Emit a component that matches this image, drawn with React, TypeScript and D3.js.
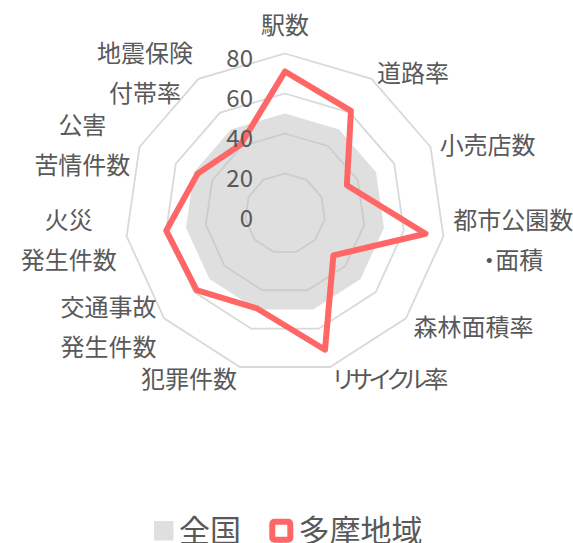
import React from "react";
import * as d3 from "d3";

const categories: string[][] = [
  ["駅数"],
  ["道路率"],
  ["小売店数"],
  ["都市公園数", "・面積"],
  ["森林面積率"],
  ["リサイクル率"],
  ["犯罪件数"],
  ["交通事故", "発生件数"],
  ["火災", "発生件数"],
  ["公害", "苦情件数"],
  ["地震保険", "付帯率"],
];
const nationalValues = [50, 50, 50, 50, 50, 50, 50, 50, 50, 50, 50];
const tamaValues = [71, 61, 34, 71, 32, 71, 49.5, 58.5, 60, 48, 41];
const ticks = [0, 20, 40, 60, 80];
const seriesNames = ["全国", "多摩地域"];

const W = 573;
const H = 543;
const cx = 285;
const cy = 213.5;
const FONT = "'Noto Sans CJK JP', 'Noto Sans', sans-serif";
const TEXT = "#595959";
const RED = "#FF6666";

export default function App() {
  const n = categories.length;
  const r = d3.scaleLinear().domain([0, 80]).range([0, 160]);
  const angle = (i: number) => (i * 2 * Math.PI) / n;
  const radial = d3
    .lineRadial<number>()
    .angle((_, i) => angle(i))
    .radius((d) => r(d))
    .curve(d3.curveLinearClosed);

  const fs = 24;
  const lh = 40;
  const labelR = 170;

  return (
    <svg
      width={W}
      height={H}
      style={{ position: "absolute", left: 0, top: 0, background: "#fff" }}
      fontFamily={FONT}
    >
      <g transform={`translate(${cx},${cy})`}>
        {ticks
          .filter((t) => t > 0)
          .map((t) => (
            <path
              key={t}
              d={radial(new Array(n).fill(t)) || ""}
              fill="none"
              stroke="#D9D9D9"
              strokeWidth={1.8}
            />
          ))}
        <path
          d={radial(nationalValues) || ""}
          fill="#BFBFBF"
          fillOpacity={0.5}
          stroke="none"
        />
        <path
          d={radial(tamaValues) || ""}
          fill="none"
          stroke={RED}
          strokeWidth={6}
          strokeLinejoin="round"
        />
        {ticks.map((t) => (
          <text
            key={t}
            x={-32}
            y={-r(t) + 3}
            textAnchor="end"
            dominantBaseline="central"
            fontSize={fs}
            fill={TEXT}
          >
            {t}
          </text>
        ))}
        {categories.map((lines, i) => {
          const a = angle(i);
          const s = Math.sin(a);
          const c = Math.cos(a);
          const ax = labelR * s;
          const ay = -labelR * c;
          const maxLen = Math.max(...lines.map((l) => l.length));
          const bw = maxLen * fs;
          let bx = ax;
          let anchor = "middle";
          if (lines.length === 1) {
            if (s > 0.1) anchor = "start";
            else if (s < -0.1) anchor = "end";
          } else {
            if (s > 0.1) bx = ax + bw / 2;
            else if (s < -0.1) bx = ax - bw / 2;
          }
          const bh = lines.length * lh;
          let by = ay;
          if (c > 0.95) by = ay - 21;
          const hasKana = lines.some((l) => /[\u30A1-\u30FA]/.test(l));
          return (
            <text
              key={i}
              textAnchor={anchor}
              dominantBaseline="central"
              fontSize={fs}
              fill={TEXT}
              letterSpacing={hasKana ? -3 : 0}
              style={{ fontFeatureSettings: "'palt'" }}
            >
              {lines.map((l, j) => (
                <tspan key={j} x={bx} y={by - bh / 2 + lh / 2 + j * lh}>
                  {l}
                </tspan>
              ))}
            </text>
          );
        })}
      </g>
      <g>
        <rect x={154} y={521} width={19.5} height={19.5} fill="#DFDFDF" />
        <text
          x={179}
          y={528.5}
          dominantBaseline="central"
          fontSize={31}
          fill={TEXT}
        >
          {seriesNames[0]}
        </text>
        <rect
          x={272.3}
          y={521.8}
          width={18}
          height={18}
          rx={2}
          fill="#fff"
          stroke={RED}
          strokeWidth={6}
        />
        <text
          x={298.5}
          y={528.5}
          dominantBaseline="central"
          fontSize={31}
          fill={TEXT}
        >
          {seriesNames[1]}
        </text>
      </g>
    </svg>
  );
}
